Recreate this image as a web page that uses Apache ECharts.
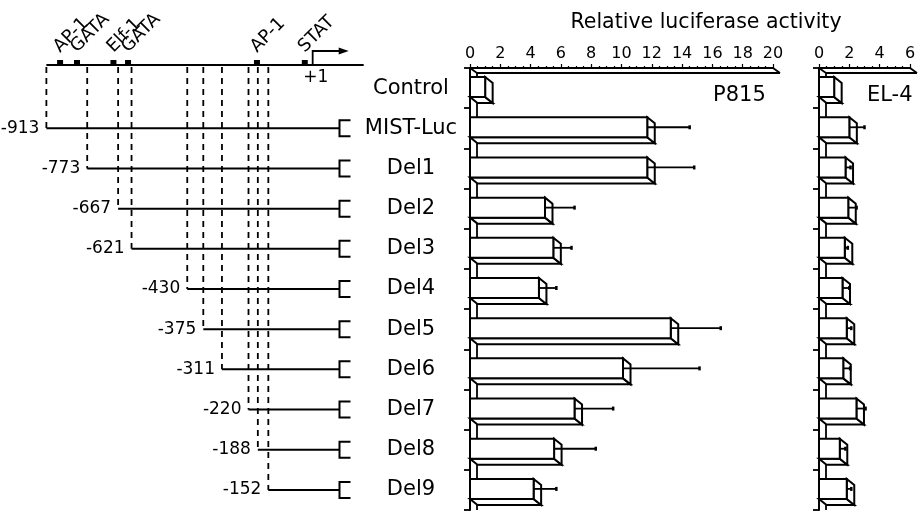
<!DOCTYPE html>
<html><head><meta charset="utf-8">
<script src="https://cdn.jsdelivr.net/npm/echarts@6/dist/echarts.min.js"></script>
<style>html,body{margin:0;padding:0;background:#fff}#c{width:918px;height:511px}</style>
</head><body><div id="c"></div>
<script>
// ---------------- data ----------------
const categories = ['Control','MIST-Luc','Del1','Del2','Del3','Del4','Del5','Del6','Del7','Del8','Del9'];
const constructStarts = [null,-913,-773,-667,-621,-430,-375,-311,-220,-188,-152];
const p815Values = [1, 11.7, 11.7, 4.95, 5.5, 4.55, 13.25, 10.1, 6.9, 5.55, 4.2];
const p815Errors = [0, 2.8, 3.1, 1.95, 1.2, 1.15, 3.3, 5.05, 2.55, 2.75, 1.5];
const el4Values = [1, 2.0, 1.75, 1.93, 1.7, 1.55, 1.83, 1.6, 2.47, 1.37, 1.83];
const el4Errors = [0, 1.0, 0.33, 0.55, 0.2, 0.45, 0.3, 0.45, 0.6, 0.37, 0.3];
const siteNames = ['AP-1','GATA','Elf-1','GATA','AP-1','STAT'];
const sitePositions = [-866,-808,-683,-633,-191,-27];
const promoterSpan = [-913, 175];
const tssPosition = 0;
const lucStart = 92;
const p815TickLabels = [0,2,4,6,8,10,12,14,16,18,20];
const el4TickLabels = [0,2,4,6];
const axisTitle = 'Relative luciferase activity';
const panelNames = ['P815','EL-4'];

// ---------------- style ----------------
const FONT = 'DejaVu Sans';
const K = '#000';
const DX = 7.5, DY = 6;

function bandInfo(api){
  const bh = api.size([0,1])[1];
  const c0 = api.coord([0,0])[1];
  return {bh, top: c0 - bh/2, bottom: api.coord([0,categories.length-1])[1] + bh/2};
}

function promoterItem(params, api){
  const b = bandInfo(api);
  const y = b.top - 3;
  const x1 = api.coord([api.value(0),0])[0];
  const x2 = api.coord([api.value(2),0])[0];
  return {type:'line', shape:{x1, y1:y, x2, y2:y}, style:{stroke:K, lineWidth:2}};
}
function siteItem(params, api){
  const b = bandInfo(api);
  const y = b.top - 3;
  const x = api.coord([api.value(0),0])[0];
  const name = siteNames[api.value(2)];
  return {type:'group', children:[
    {type:'rect', shape:{x:x-3, y:y-5, width:6, height:5}, style:{fill:K}},
    {type:'text', x:x+3, y:y-9, rotation:Math.PI/4,
     style:{text:name, fill:K, fontSize:18, fontFamily:FONT, align:'left', verticalAlign:'bottom'}}
  ]};
}
function tssItem(params, api){
  const b = bandInfo(api);
  const y = b.top - 3;
  const x = api.coord([api.value(0),0])[0];
  return {type:'group', children:[
    {type:'polyline', shape:{points:[[x,y],[x,y-14],[x+28,y-14]]}, style:{stroke:K, lineWidth:1.8, fill:null}},
    {type:'polygon', shape:{points:[[x+26,y-17.5],[x+36,y-14],[x+26,y-10.5]]}, style:{fill:K}},
    {type:'text', x:x+3, y:y+13, style:{text:'+1', fill:K, fontSize:17, fontFamily:FONT, align:'center', verticalAlign:'middle'}}
  ]};
}
function constructItem(params, api){
  const b = bandInfo(api);
  const topY = b.top - 3;
  const s = api.value(0), row = api.value(1);
  const p = api.coord([s,row]);
  const pe = api.coord([lucStart,row]);
  const y = p[1];
  return {type:'group', children:[
    {type:'line', shape:{x1:p[0], y1:topY+2, x2:p[0], y2:y}, style:{stroke:K, lineWidth:1.8, lineDash:[6,5]}},
    {type:'line', shape:{x1:p[0], y1:y, x2:pe[0], y2:y}, style:{stroke:K, lineWidth:2}},
    {type:'polyline', shape:{points:[[pe[0]+11,y-8],[pe[0],y-8],[pe[0],y+8],[pe[0]+11,y+8]]}, style:{stroke:K, lineWidth:2, fill:null}},
    {type:'text', x:p[0]-7, y:y, style:{text:String(s), fill:K, fontSize:17, fontFamily:FONT, align:'right', verticalAlign:'middle'}}
  ]};
}
function slabMaker(ticks){
  return function(params, api){
    const b = bandInfo(api);
    const xl = api.coord([ticks[0],0])[0];
    const xr = api.coord([ticks[ticks.length-1],0])[0];
    const t = b.top;
    const st = {stroke:K, lineWidth:1.8};
    return {type:'group', children:[
      {type:'line', shape:{x1:xl, y1:t, x2:xl+7, y2:t+5}, style:st},
      {type:'line', shape:{x1:xr, y1:t, x2:xr+7, y2:t+5}, style:st},
      {type:'line', shape:{x1:xl+7, y1:t+5, x2:xr+7, y2:t+5}, style:st},
      {type:'line', shape:{x1:xl+7, y1:t+5, x2:xl+7, y2:b.bottom}, style:st}
    ]};
  };
}
function barItem(params, api){
  const v = api.value(0), cat = api.value(1), e = api.value(2);
  const p0 = api.coord([0,cat]);
  const p1 = api.coord([v,cat]);
  const h = 20;
  const y0 = p0[1] - 11, y1 = y0 + h, yc = y0 + h/2;
  const x0 = p0[0], x1 = p1[0];
  const st = {fill:'#fff', stroke:K, lineWidth:2};
  const ch = [
    {type:'polygon', shape:{points:[[x0,y1],[x1,y1],[x1+DX,y1+DY],[x0+DX,y1+DY]]}, style:st},
    {type:'polygon', shape:{points:[[x1,y0],[x1+DX,y0+DY],[x1+DX,y1+DY],[x1,y1]]}, style:st},
    {type:'rect', shape:{x:x0, y:y0, width:x1-x0, height:h}, style:st}
  ];
  if (e > 0){
    const xe = api.coord([v+e,cat])[0];
    ch.push({type:'line', shape:{x1:x1, y1:yc, x2:xe, y2:yc}, style:{stroke:K, lineWidth:1.8}});
    ch.push({type:'line', shape:{x1:xe, y1:yc-2, x2:xe, y2:yc+2}, style:{stroke:K, lineWidth:2.5}});
  }
  return {type:'group', children:ch};
}

function valueXAxis(gridIndex, ticks){
  return {type:'value', gridIndex, position:'top', min:ticks[0], max:ticks[ticks.length-1],
    interval: ticks[1]-ticks[0],
    axisLine:{show:true, lineStyle:{color:K, width:1.8}},
    axisTick:{show:true, length:4, lineStyle:{color:K, width:1.2}},
    minorTick:{show:true, splitNumber:4, length:2, lineStyle:{color:K, width:1.2}},
    splitLine:{show:false},
    axisLabel:{show:true, color:K, fontSize:16, fontFamily:FONT, margin:6}};
}
function catYAxis(gridIndex, showLabels){
  return {type:'category', gridIndex, data:categories, inverse:true,
    axisLine:{show:true, lineStyle:{color:K, width:2}},
    axisTick:{show:true, length:6, interval:0, lineStyle:{color:K, width:1.8}},
    axisLabel:{show:showLabels, interval:0, align:'center', margin:59, color:K, fontSize:21, fontFamily:FONT},
    splitLine:{show:false}};
}

const chart = echarts.init(document.getElementById('c'));
chart.setOption({
  animation:false,
  backgroundColor:'#fff',
  grid:[
    {left:21, top:68, width:350, height:442, outerBoundsMode:'none'},
    {left:470, top:68, width:303, height:442, outerBoundsMode:'none'},
    {left:819, top:68, width:91, height:442, outerBoundsMode:'none'}
  ],
  xAxis:[
    {type:'value', gridIndex:0, min:-1000, max:200, show:false},
    valueXAxis(1, p815TickLabels),
    valueXAxis(2, el4TickLabels)
  ],
  yAxis:[
    {type:'category', gridIndex:0, data:categories, inverse:true, show:false},
    catYAxis(1, true),
    catYAxis(2, false)
  ],
  graphic:[
    {type:'text', x:706, y:23, style:{text:axisTitle, fill:K, fontSize:20.5, fontFamily:FONT, align:'center', verticalAlign:'middle'}},
    {type:'text', x:713, y:96, style:{text:panelNames[0], fill:K, fontSize:21, fontFamily:FONT, align:'left', verticalAlign:'middle'}},
    {type:'text', x:867, y:96, style:{text:panelNames[1], fill:K, fontSize:21, fontFamily:FONT, align:'left', verticalAlign:'middle'}}
  ],
  series:[
    {type:'custom', xAxisIndex:0, yAxisIndex:0, silent:true, renderItem:promoterItem,
     data:[[promoterSpan[0], 0, promoterSpan[1]]], encode:{x:0, y:1}},
    {type:'custom', xAxisIndex:0, yAxisIndex:0, silent:true, renderItem:siteItem,
     data:sitePositions.map((p,i)=>[p,0,i]), encode:{x:0, y:1}},
    {type:'custom', xAxisIndex:0, yAxisIndex:0, silent:true, renderItem:tssItem,
     data:[[tssPosition,0]], encode:{x:0, y:1}},
    {type:'custom', xAxisIndex:0, yAxisIndex:0, silent:true, renderItem:constructItem,
     data:constructStarts.map((s,i)=>s===null?null:[s,i]).filter(d=>d), encode:{x:0, y:1}},
    {type:'custom', xAxisIndex:1, yAxisIndex:1, silent:true, renderItem:slabMaker(p815TickLabels),
     data:[[0,0]], encode:{x:0, y:1}},
    {type:'custom', xAxisIndex:1, yAxisIndex:1, silent:true, renderItem:barItem,
     data:p815Values.map((v,i)=>[v,i,p815Errors[i]]), encode:{x:0, y:1}},
    {type:'custom', xAxisIndex:2, yAxisIndex:2, silent:true, renderItem:slabMaker(el4TickLabels),
     data:[[0,0]], encode:{x:0, y:1}},
    {type:'custom', xAxisIndex:2, yAxisIndex:2, silent:true, renderItem:barItem,
     data:el4Values.map((v,i)=>[v,i,el4Errors[i]]), encode:{x:0, y:1}}
  ]
});
</script>
</body></html>
